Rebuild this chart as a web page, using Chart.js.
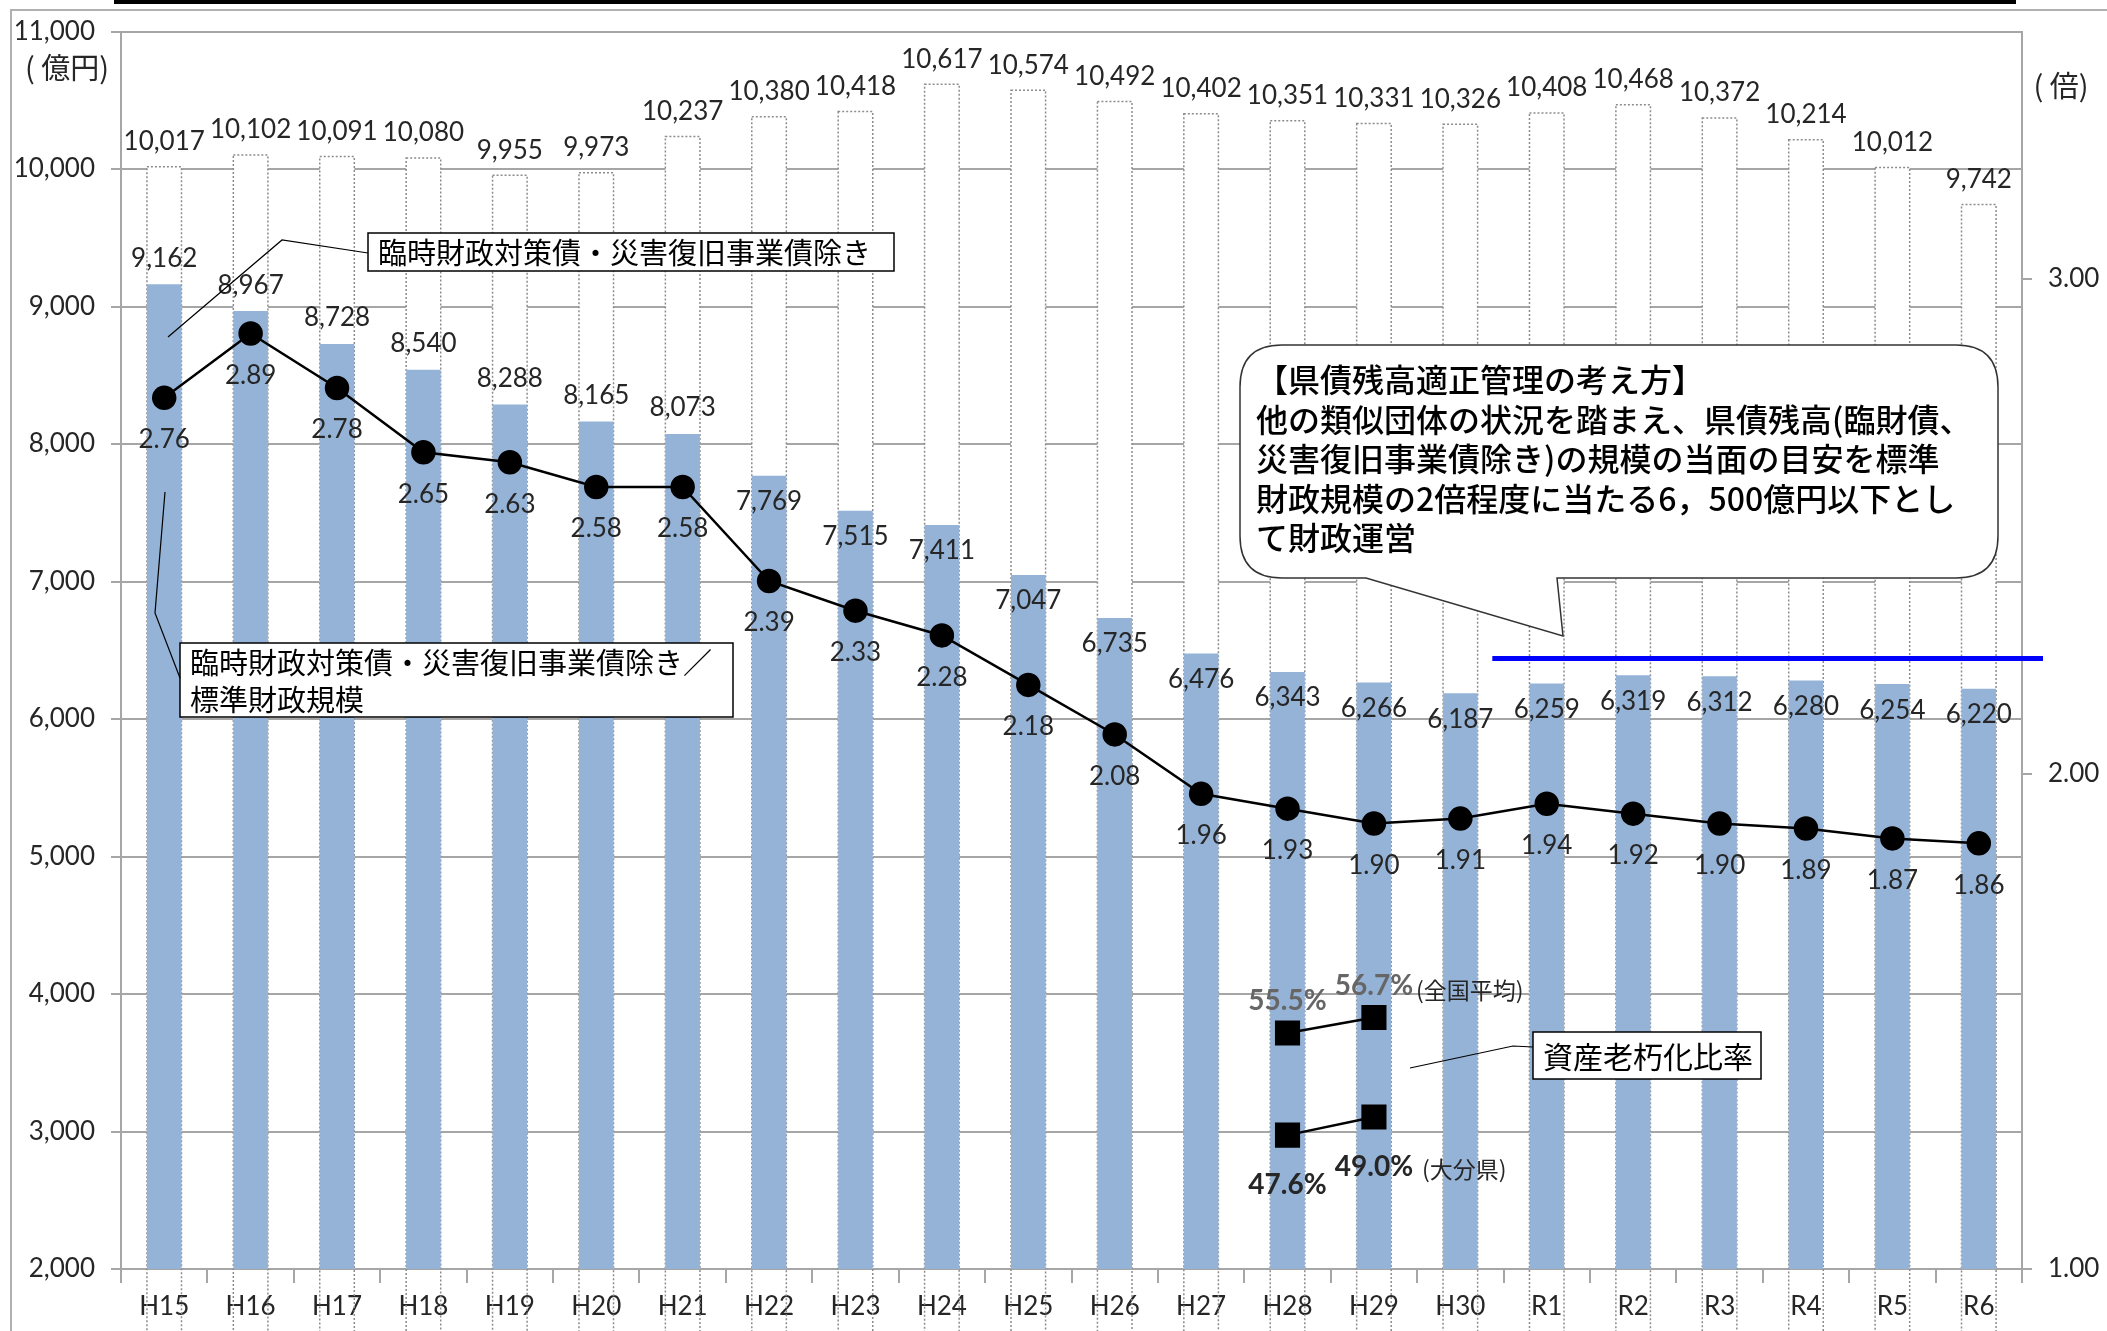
<!DOCTYPE html>
<html>
<head>
<meta charset="utf-8">
<script src="https://cdn.jsdelivr.net/npm/chart.js@4.4.1/dist/chart.umd.min.js"></script>
<style>
  body { margin: 0; background: #fff; }
  #wrap { width: 2107px; height: 1331px; }
</style>
</head>
<body>
<div id="wrap"><canvas id="debtChart" width="2107" height="1331"></canvas></div>
<script>
var years = ['H15', 'H16', 'H17', 'H18', 'H19', 'H20', 'H21', 'H22', 'H23', 'H24', 'H25',
  'H26', 'H27', 'H28', 'H29', 'H30', 'R1', 'R2', 'R3', 'R4', 'R5', 'R6'];

// 県債残高 (億円)
var totalDebt = [10017, 10102, 10091, 10080, 9955, 9973, 10237, 10380, 10418, 10617, 10574,
  10492, 10402, 10351, 10331, 10326, 10408, 10468, 10372, 10214, 10012, 9742];

// 臨時財政対策債・災害復旧事業債除き (億円)
var debtExcl = [9162, 8967, 8728, 8540, 8288, 8165, 8073, 7769, 7515, 7411, 7047,
  6735, 6476, 6343, 6266, 6187, 6259, 6319, 6312, 6280, 6254, 6220];

// 除き残高 / 標準財政規模 (倍)
var ratioToStd = [2.76, 2.89, 2.78, 2.65, 2.63, 2.58, 2.58, 2.39, 2.33, 2.28, 2.18,
  2.08, 1.96, 1.93, 1.90, 1.91, 1.94, 1.92, 1.90, 1.89, 1.87, 1.86];

// 資産老朽化比率 (%)
var agingNational = [null, null, null, null, null, null, null, null, null, null, null,
  null, null, 55.5, 56.7, null, null, null, null, null, null, null];
var agingOita = [null, null, null, null, null, null, null, null, null, null, null,
  null, null, 47.6, 49.0, null, null, null, null, null, null, null];

var targetLevel = 6440;   // 目安ライン (億円)

var NUM_FONT = '26px Lato';
var JP = '"Noto Sans CJK JP"';
var GRID = '#a6a6a6';
var TXT = '#262626';

function fmt(v) { return v.toLocaleString('en-US'); }

// dotted outline for the white (total) bars
var dottedBars = {
  id: 'dottedBars',
  afterDatasetDraw: function(chart, args) {
    if (args.index !== 0) return;
    var ctx = chart.ctx;
    ctx.save();
    ctx.strokeStyle = '#8c8c8c';
    ctx.lineWidth = 1.5;
    ctx.setLineDash([2, 2]);
    args.meta.data.forEach(function(bar) {
      var w = bar.width;
      ctx.strokeRect(bar.x - w / 2, bar.y, w, bar.base - bar.y);
    });
    ctx.restore();
  }
};

var labelPlugin = {
  id: 'valueLabels',
  afterDatasetsDraw: function(chart) {
    var ctx = chart.ctx;
    ctx.save();
    ctx.font = NUM_FONT;
    ctx.fillStyle = TXT;
    ctx.textAlign = 'center';
    ctx.textBaseline = 'middle';
    chart.getDatasetMeta(0).data.forEach(function(bar, i) {
      ctx.fillText(fmt(totalDebt[i]), bar.x, bar.y - 25);
    });
    chart.getDatasetMeta(1).data.forEach(function(bar, i) {
      ctx.fillText(fmt(debtExcl[i]), bar.x, i < 7 ? bar.y - 26 : bar.y + 26);
    });
    chart.getDatasetMeta(2).data.forEach(function(pt, i) {
      ctx.fillText(ratioToStd[i].toFixed(2), pt.x, pt.y + 42);
    });

    // 資産老朽化比率 labels
    ctx.font = 'bold 28px Lato';
    var last;
    ctx.fillStyle = '#666';
    chart.getDatasetMeta(3).data.forEach(function(pt, i) {
      if (agingNational[i] == null) return;
      ctx.fillText(agingNational[i].toFixed(1) + '%', pt.x, pt.y - 32);
      last = pt;
    });
    ctx.font = '23px ' + JP;
    ctx.fillStyle = TXT;
    ctx.textAlign = 'left';
    ctx.fillText('(全国平均)', last.x + 42, last.y - 27);

    ctx.font = 'bold 28px Lato';
    ctx.textAlign = 'center';
    chart.getDatasetMeta(4).data.forEach(function(pt, i) {
      if (agingOita[i] == null) return;
      ctx.fillText(agingOita[i].toFixed(1) + '%', pt.x, pt.y + 50);
      last = pt;
    });
    ctx.font = '23px ' + JP;
    ctx.textAlign = 'left';
    ctx.fillText('(大分県)', last.x + 48, last.y + 52);
    ctx.restore();
  }
};

function textBox(ctx, x, y, w, h, lines, size) {
  ctx.fillStyle = '#fff';
  ctx.fillRect(x, y, w, h);
  ctx.strokeStyle = '#000';
  ctx.lineWidth = 1.5;
  ctx.strokeRect(x, y, w, h);
  ctx.fillStyle = '#000';
  ctx.font = size + 'px ' + JP;
  ctx.textAlign = 'left';
  ctx.textBaseline = 'middle';
  var lh = h / lines.length;
  lines.forEach(function(t, i) { ctx.fillText(t, x + 10, y + lh * (i + 0.5) + 1); });
}

function leader(ctx, pts) {
  ctx.beginPath();
  ctx.strokeStyle = '#000';
  ctx.lineWidth = 1.2;
  ctx.moveTo(pts[0][0], pts[0][1]);
  for (var i = 1; i < pts.length; i++) ctx.lineTo(pts[i][0], pts[i][1]);
  ctx.stroke();
}

var notesPlugin = {
  id: 'notes',
  afterDraw: function(chart) {
    var ctx = chart.ctx;
    var area = chart.chartArea;
    var xs = chart.scales.x;
    var ys = chart.scales.y;
    ctx.save();

    // frame
    ctx.fillStyle = '#000';
    ctx.fillRect(114, 0, 1902, 4);
    ctx.strokeStyle = '#b0b0b0';
    ctx.lineWidth = 2;
    ctx.beginPath();
    ctx.moveTo(2107, 10);
    ctx.lineTo(11, 10);
    ctx.lineTo(11, 1331);
    ctx.stroke();

    // unit labels
    ctx.fillStyle = TXT;
    ctx.font = '29px ' + JP;
    ctx.textAlign = 'center';
    ctx.textBaseline = 'middle';
    ctx.fillText('( 億円)', 67, 68);
    ctx.fillText('( 倍)', 2061, 86);

    // target line
    var step = xs.getPixelForValue(1) - xs.getPixelForValue(0);
    var ty = ys.getPixelForValue(targetLevel);
    ctx.strokeStyle = '#0000ff';
    ctx.lineWidth = 5;
    ctx.beginPath();
    ctx.moveTo(xs.getPixelForValue(15) + step * 0.37, ty);
    ctx.lineTo(area.right + 21, ty);
    ctx.stroke();

    // boxes
    textBox(ctx, 368, 233, 526, 38, ['臨時財政対策債・災害復旧事業債除き'], 29);
    leader(ctx, [[368, 253], [282, 240], [168, 337]]);
    textBox(ctx, 180, 643, 553, 74, ['臨時財政対策債・災害復旧事業債除き／', '標準財政規模'], 29);
    leader(ctx, [[165, 492], [155, 613], [180, 678]]);
    textBox(ctx, 1533, 1032, 228, 47, ['資産老朽化比率'], 30);
    leader(ctx, [[1533, 1047], [1513, 1046], [1410, 1068]]);

    // callout bubble
    var x0 = 1240, y0 = 345, x1 = 1998, y1 = 578, r = 42;
    ctx.beginPath();
    ctx.moveTo(x0 + r, y0);
    ctx.lineTo(x1 - r, y0);
    ctx.quadraticCurveTo(x1, y0, x1, y0 + r);
    ctx.lineTo(x1, y1 - r);
    ctx.quadraticCurveTo(x1, y1, x1 - r, y1);
    ctx.lineTo(1557, y1);
    ctx.lineTo(1563, 636);
    ctx.lineTo(1366, y1);
    ctx.lineTo(x0 + r, y1);
    ctx.quadraticCurveTo(x0, y1, x0, y1 - r);
    ctx.lineTo(x0, y0 + r);
    ctx.quadraticCurveTo(x0, y0, x0 + r, y0);
    ctx.closePath();
    ctx.fillStyle = '#fff';
    ctx.fill();
    ctx.strokeStyle = '#333';
    ctx.lineWidth = 1.5;
    ctx.stroke();

    var bubbleText = [
      '【県債残高適正管理の考え方】',
      '他の類似団体の状況を踏まえ、県債残高(臨財債、',
      '災害復旧事業債除き)の規模の当面の目安を標準',
      '財政規模の2倍程度に当たる6，500億円以下とし',
      'て財政運営'
    ];
    ctx.fillStyle = '#000';
    ctx.font = '500 32px ' + JP;
    ctx.textAlign = 'left';
    bubbleText.forEach(function(t, i) { ctx.fillText(t, 1256, 380 + i * 39.5); });

    ctx.restore();
  }
};

new Chart(document.getElementById('debtChart'), {
  type: 'bar',
  data: {
    labels: years,
    datasets: [{
      label: '県債残高',
      data: totalDebt,
      backgroundColor: '#ffffff',
      borderWidth: 0,
      grouped: false,
      order: 3,
      yAxisID: 'y'
    }, {
      label: '臨時財政対策債・災害復旧事業債除き',
      data: debtExcl,
      backgroundColor: '#95b3d7',
      borderWidth: 0,
      grouped: false,
      order: 2,
      yAxisID: 'y'
    }, {
      type: 'line',
      label: '除き／標準財政規模',
      data: ratioToStd,
      borderColor: '#000',
      borderWidth: 2.5,
      pointRadius: 11,
      pointBackgroundColor: '#000',
      pointBorderColor: '#000',
      tension: 0,
      order: 1,
      yAxisID: 'y2'
    }, {
      type: 'line',
      label: '資産老朽化比率(全国平均)',
      data: agingNational,
      borderColor: '#000',
      borderWidth: 2.5,
      pointStyle: 'rect',
      pointRadius: 16,
      pointBackgroundColor: '#000',
      pointBorderColor: '#000',
      order: 0,
      yAxisID: 'yPct'
    }, {
      type: 'line',
      label: '資産老朽化比率(大分県)',
      data: agingOita,
      borderColor: '#000',
      borderWidth: 2.5,
      pointStyle: 'rect',
      pointRadius: 16,
      pointBackgroundColor: '#000',
      pointBorderColor: '#000',
      order: 0,
      yAxisID: 'yPct'
    }]
  },
  options: {
    responsive: false,
    animation: false,
    devicePixelRatio: 1,
    datasets: {
      bar: { barPercentage: 0.4, categoryPercentage: 1 }
    },
    layout: { padding: { top: 10, left: 0, right: 0, bottom: 0 } },
    plugins: {
      legend: { display: false },
      tooltip: { enabled: false }
    },
    scales: {
      x: {
        offset: true,
        grid: { offset: true, drawOnChartArea: false, color: GRID, lineWidth: 2, tickLength: 14 },
        border: { color: GRID, width: 2 },
        ticks: { color: TXT, font: { family: 'Lato', size: 26 }, padding: 8, maxRotation: 0 },
        afterFit: function(s) { s.height = 62; }
      },
      y: {
        position: 'left',
        min: 2000,
        max: 11000,
        ticks: { stepSize: 1000, color: TXT, font: { family: 'Lato', size: 26 }, padding: 16,
          callback: function(v) { return fmt(v); } },
        grid: { color: GRID, lineWidth: 2, tickLength: 10 },
        border: { color: GRID, width: 2 },
        afterFit: function(s) { s.width = 121; }
      },
      y2: {
        position: 'right',
        min: 1,
        max: 3.5,
        ticks: { stepSize: 1, includeBounds: false, color: TXT, font: { family: 'Lato', size: 26 }, padding: 16,
          callback: function(v) { return v.toFixed(2); } },
        grid: { drawOnChartArea: false, color: GRID, lineWidth: 2, tickLength: 10 },
        border: { color: GRID, width: 2 },
        afterFit: function(s) { s.width = 85; }
      },
      yPct: {
        display: false,
        min: 37.24,
        max: 132.98
      }
    }
  },
  plugins: [dottedBars, labelPlugin, notesPlugin]
});
</script>
</body>
</html>
